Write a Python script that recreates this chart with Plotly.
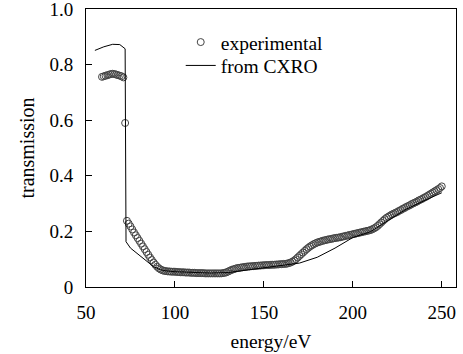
import plotly.graph_objects as go

# Experimental transmission (1 eV steps, 59-250 eV)
exp_energy = list(range(59, 251))
exp_trans = [
    0.756, 0.758, 0.760, 0.762, 0.764, 0.766, 0.767, 0.766, 0.764, 0.762,  # 59-68
    0.760, 0.758, 0.754, 0.590, 0.238, 0.228, 0.218, 0.207, 0.196, 0.186,  # 69-78
    0.176, 0.166, 0.156, 0.146, 0.136, 0.126, 0.116, 0.106, 0.097, 0.088,  # 79-88
    0.080, 0.073, 0.067, 0.063, 0.060, 0.058, 0.057, 0.056, 0.056, 0.055,  # 89-98
    0.055, 0.055, 0.054, 0.054, 0.053, 0.053, 0.053, 0.052, 0.052, 0.052,  # 99-108
    0.051, 0.051, 0.051, 0.050, 0.050, 0.050, 0.050, 0.050, 0.049, 0.049,  # 109-118
    0.049, 0.049, 0.049, 0.049, 0.049, 0.049, 0.049, 0.049, 0.050, 0.051,  # 119-128
    0.053, 0.056, 0.059, 0.062, 0.064, 0.066, 0.068, 0.069, 0.070, 0.071,  # 129-138
    0.072, 0.073, 0.074, 0.074, 0.075, 0.075, 0.076, 0.076, 0.077, 0.077,  # 139-148
    0.078, 0.078, 0.079, 0.079, 0.079, 0.080, 0.080, 0.080, 0.081, 0.081,  # 149-158
    0.082, 0.082, 0.083, 0.083, 0.084, 0.086, 0.088, 0.091, 0.095, 0.100,  # 159-168
    0.106, 0.112, 0.118, 0.124, 0.130, 0.136, 0.141, 0.146, 0.150, 0.154,  # 169-178
    0.157, 0.160, 0.162, 0.164, 0.166, 0.168, 0.169, 0.171, 0.172, 0.173,  # 179-188
    0.175, 0.176, 0.177, 0.178, 0.179, 0.181, 0.182, 0.184, 0.185, 0.187,  # 189-198
    0.188, 0.190, 0.191, 0.193, 0.194, 0.196, 0.197, 0.199, 0.200, 0.202,  # 199-208
    0.203, 0.205, 0.208, 0.211, 0.215, 0.220, 0.226, 0.232, 0.238, 0.244,  # 209-218
    0.249, 0.253, 0.257, 0.261, 0.264, 0.267, 0.270, 0.274, 0.277, 0.281,  # 219-228
    0.284, 0.288, 0.291, 0.294, 0.298, 0.301, 0.304, 0.307, 0.311, 0.314,  # 229-238
    0.317, 0.321, 0.324, 0.328, 0.332, 0.336, 0.340, 0.344, 0.348, 0.352,  # 239-248
    0.356, 0.362,                                                          # 249-250
]

# CXRO calculated transmission
cxro_energy = [55, 60, 65, 69, 72, 72.5, 75, 80, 85, 88, 92, 95, 100, 110, 120,
               130, 140, 150, 160, 165, 170, 180, 190, 200, 210, 220, 230, 240, 250]
cxro_trans = [0.851, 0.864, 0.873, 0.872, 0.857, 0.163, 0.140, 0.115, 0.090, 0.073,
              0.062, 0.058, 0.055, 0.052, 0.050, 0.052, 0.060, 0.068, 0.076, 0.080,
              0.086, 0.107, 0.140, 0.178, 0.199, 0.240, 0.280, 0.310, 0.339]

x_ticks = [50, 100, 150, 200, 250]
y_ticks = [0, 0.2, 0.4, 0.6, 0.8, 1.0]
y_ticktext = ["0", "0.2", "0.4", "0.6", "0.8", "1.0"]

FONT = "Times New Roman, Liberation Serif, serif"

fig = go.Figure()
fig.add_trace(go.Scatter(
    x=exp_energy, y=exp_trans, mode="markers", name="experimental",
    marker=dict(symbol="circle-open", size=7, color="#444444", line=dict(width=1, color="#444444")),
    cliponaxis=False, legend="legend",
))
fig.add_trace(go.Scatter(
    x=cxro_energy, y=cxro_trans, mode="lines", name="from CXRO",
    line=dict(color="black", width=1), legend="legend2",
))

legend_common = dict(xanchor="left", yanchor="top", bgcolor="rgba(0,0,0,0)",
                     font=dict(size=19.5, family=FONT), itemwidth=30)

fig.update_layout(
    width=463, height=354,
    margin=dict(l=86, r=7, t=9, b=67, autoexpand=False),
    paper_bgcolor="white", plot_bgcolor="white",
    font=dict(family=FONT, size=19, color="black"),
    showlegend=True,
    legend=dict(x=0.256, y=0.95, **legend_common),
    legend2=dict(x=0.256, y=0.866, **legend_common),
)
fig.update_xaxes(
    range=[50, 258], tickvals=x_ticks, ticks="inside", ticklen=6, tickwidth=1,
    tickcolor="black", showline=True, linecolor="black", linewidth=1, mirror=True,
    showgrid=False, zeroline=False, ticklabelstandoff=8, automargin=False,
    ticklabeloverflow="allow", tickfont=dict(size=19),
    title=dict(text="energy/eV", font=dict(size=19.5, family=FONT), standoff=12),
)
fig.update_yaxes(
    range=[0, 1.0], tickvals=y_ticks, ticktext=y_ticktext, ticks="inside", ticklen=6,
    tickwidth=1, tickcolor="black", showline=True, linecolor="black", linewidth=1,
    mirror=True, showgrid=False, zeroline=False, ticklabelstandoff=8, automargin=False,
    ticklabeloverflow="allow", tickfont=dict(size=19),
    title=dict(text="transmission", font=dict(size=20, family=FONT), standoff=9),
)

fig.write_html("out.html", post_script="document.body.style.margin='0';",
               config={"displayModeBar": False})
